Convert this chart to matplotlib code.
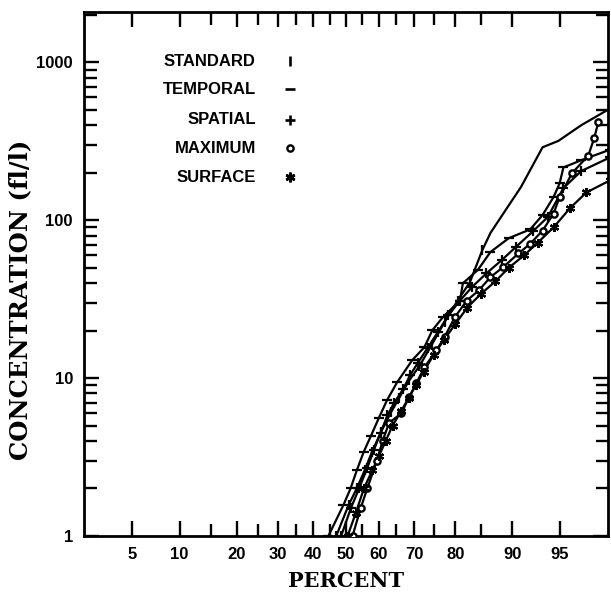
import numpy as np
import matplotlib
matplotlib.use("Agg")
import matplotlib.pyplot as plt
from statistics import NormalDist

# dados (percentil %, concentracao fl/l)
standard_pct = [47.0, 50.8, 53.3, 55.7, 57.9, 60.6, 63.6, 65.9, 68.7, 71.4, 74.5, 77.6, 80.5,
                83.0, 85.3, 86.7, 88.7, 91.1, 93.5, 94.9, 96.5, 97.9]
standard_conc = [1.0, 1.57, 2.0, 2.6, 3.4, 4.55, 6.1, 7.5, 9.7, 11.9, 16.2, 22.6, 31.0,
                 40.5, 64.5, 83.0, 110, 162, 290, 318, 400, 510]

temporal_pct = [44.6, 49.2, 51.4, 53.3, 55.4, 57.6, 60.0, 62.4, 65.3, 69.5, 72.7, 74.7, 77.2,
                81.0, 81.6, 84.5, 86.7, 89.5, 92.2, 93.5, 94.5, 95.0, 95.3, 96.5, 97.9]
temporal_conc = [1.0, 1.57, 2.0, 2.6, 3.4, 4.3, 5.6, 7.25, 9.4, 13.0, 15.7, 20.1, 24.3,
                 31.0, 39.9, 48.4, 62.9, 77.0, 87.5, 108, 140, 171, 216, 240, 280]

spatial_pct = [48.5, 51.5, 54.0, 56.5, 58.5, 60.5, 62.5, 64.5, 67.0, 69.0, 71.0, 73.5, 76.0,
               78.5, 81.0, 83.5, 86.0, 88.5, 90.5, 92.5, 94.0, 95.3, 96.5, 97.9]
spatial_conc = [1.0, 1.5, 2.0, 2.7, 3.5, 4.5, 5.8, 7.0, 8.5, 10.5, 12.5, 15.5, 19.5,
                25, 31, 38, 46, 56, 68, 85, 105, 160, 205, 250]

maximum_pct = [52.0, 54.5, 56.5, 59.4, 61.1, 63.0, 66.5, 68.7, 70.6, 72.7, 75.7, 77.6, 79.9,
               82.4, 84.7, 86.7, 88.7, 90.8, 92.2, 93.5, 94.5, 95.0, 95.9, 96.9, 97.2, 97.4]
maximum_conc = [1.0, 1.5, 2.0, 3.0, 4.0, 5.2, 6.0, 7.6, 9.3, 11.7, 15.0, 18.2, 24.3,
                31, 36, 43.6, 50.5, 61.6, 71, 86, 110, 140, 198, 257, 330, 417]

surface_pct = [50.5, 53.0, 55.5, 58.0, 60.0, 62.0, 64.0, 66.5, 68.5, 70.5, 72.5, 75.0, 77.5,
               80.0, 82.5, 85.0, 87.5, 89.5, 91.5, 93.0, 94.5, 95.8, 96.8, 97.9]
surface_conc = [1.0, 1.4, 2.0, 2.6, 3.2, 4.0, 5.0, 6.2, 7.5, 9.0, 11, 14, 17.5,
                22, 28, 34, 41, 50, 60, 72, 90, 120, 150, 179]

legend_names = ['STANDARD', 'TEMPORAL', 'SPATIAL', 'MAXIMUM', 'SURFACE']

x_major = [5, 10, 20, 30, 40, 50, 60, 70, 80, 90, 95]
x_minor = [15, 25, 35, 45, 55, 65, 75, 85]
y_major = [1, 10, 100, 1000]

nd = NormalDist()

#escala de probabilidade (papel normal)
def prob_fwd(p):
    p = np.clip(np.asarray(p, dtype=float), 1e-4, 100 - 1e-4)
    return np.vectorize(lambda v: nd.inv_cdf(v / 100.0))(p)

def prob_inv(z):
    z = np.asarray(z, dtype=float)
    return np.vectorize(lambda v: nd.cdf(v) * 100.0)(z)


fig = plt.figure(figsize=(6.11, 6.04), dpi=100)
ax = fig.add_axes([84/611, 68/604, 524/611, 524/604])

ax.set_xscale('function', functions=(prob_fwd, prob_inv))
ax.set_yscale('log')

series = [
    (standard_pct, standard_conc, '|', 15),
    (temporal_pct, temporal_conc, '_', None),
    (spatial_pct, spatial_conc, '+', None),
    (maximum_pct, maximum_conc, 'o', None),
    (surface_pct, surface_conc, (6, 2, 0), None),
]

for pct, conc, mk, nmark in series:
    ax.plot(pct, conc, color='black', lw=1.6, zorder=2)
    n = nmark if nmark else len(pct)
    if mk == 'o':
        ax.plot(pct[:n], conc[:n], ls='none', marker='o', ms=4.5, mfc='white',
                mec='black', mew=1.7, zorder=3)
    else:
        ax.plot(pct[:n], conc[:n], ls='none', marker=mk, ms=6.5, color='black',
                mew=1.6, zorder=3)

ax.set_xlim(2.18, 97.82)
ax.set_ylim(1, 2085)

ax.set_xticks(x_major)
ax.set_xticklabels([str(v) for v in x_major])
ax.set_xticks(x_minor, minor=True)
ax.set_yticks(y_major)
ax.set_yticklabels([str(v) for v in y_major])

ax.tick_params(which='both', direction='in', top=True, right=True, width=1.7, color='black')
ax.tick_params(which='major', length=11, pad=8)
ax.tick_params(which='minor', length=9)
ax.tick_params(axis='y', which='minor', labelleft=False)
for lab in ax.get_xticklabels() + ax.get_yticklabels():
    lab.set_fontfamily('Liberation Sans')
    lab.set_fontweight('bold')
    lab.set_fontsize(12)

for s in ax.spines.values():
    s.set_linewidth(2.0)

#legenda feita a mao
leg_y = [0.906, 0.853, 0.794, 0.740, 0.685]
for i, nome in enumerate(legend_names):
    ax.text(0.328, leg_y[i], nome, transform=ax.transAxes, ha='right', va='center',
            fontfamily='Liberation Sans', fontweight='bold', fontsize=12)
    mk = series[i][2]
    if mk == 'o':
        ax.plot([0.393], [leg_y[i]], transform=ax.transAxes, marker='o', ms=4.5,
                mfc='white', mec='black', mew=1.7, clip_on=False)
    else:
        ax.plot([0.393], [leg_y[i]], transform=ax.transAxes, marker=mk, ms=7,
                color='black', mew=1.9, clip_on=False)

fig.text(20/611, 0.503, 'CONCENTRATION (fl/l)', rotation=90, ha='center', va='center',
         fontfamily='DejaVu Serif', fontweight='bold', fontsize=17.5)
fig.text(346/611, 23/604, 'PERCENT', ha='center', va='center',
         fontfamily='DejaVu Serif', fontweight='bold', fontsize=15)

fig.savefig('out.png', dpi=100)
